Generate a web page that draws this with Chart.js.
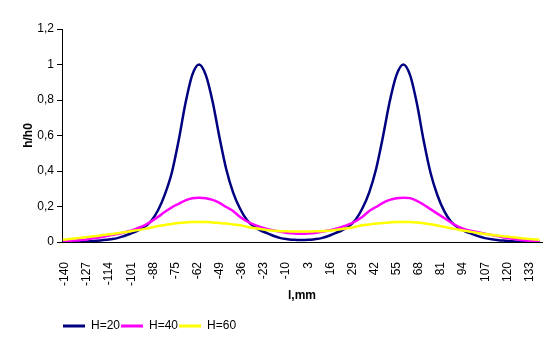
<!DOCTYPE html>
<html>
<head>
<meta charset="utf-8">
<script src="https://cdn.jsdelivr.net/npm/chart.js@4.4.1/dist/chart.umd.min.js"></script>
<style>
html,body{margin:0;padding:0;background:#ffffff;}
canvas{display:block;}
</style>
</head>
<body>
<canvas id="c" width="555" height="355"></canvas>
<script>
// l, mm (sample positions)
const positions = [
 -140,-136,-132,-128,-124,-120,-116,-112,-108,-104,-100,-96,-92,-88,-84,-80,-76,-72,-68,-64,
 -60,-56,-52,-48,-44,-40,-36,-32,-28,-24,-20,-16,-12,-8,-4,
 0,4,8,12,16,20,24,28,32,36,40,44,48,52,56,
 60,64,68,72,76,80,84,88,92,96,100,104,108,112,116,120,124,128,132,136,140
];
// h/h0, H=20
const h20 = [
 0,0,0.001,0.002,0.004,0.007,0.011,0.016,0.022,0.034,0.048,0.064,0.085,0.12,0.18,0.27,0.39,0.57,0.78,0.94,
 1.0,0.94,0.79,0.59,0.41,0.28,0.19,0.125,0.088,0.066,0.05,0.034,0.022,0.016,0.012,
 0.011,0.012,0.016,0.022,0.034,0.05,0.066,0.088,0.125,0.19,0.28,0.41,0.59,0.79,0.94,
 1.0,0.94,0.78,0.57,0.39,0.265,0.175,0.115,0.082,0.062,0.047,0.033,0.022,0.015,0.01,0.007,0.004,0.002,0.001,0,0
];
// h/h0, H=40
const h40 = [
 0.004,0.006,0.009,0.012,0.018,0.024,0.030,0.038,0.045,0.054,0.064,0.078,0.094,0.116,0.142,0.17,0.195,0.215,0.235,0.247,
 0.25,0.247,0.237,0.22,0.197,0.175,0.142,0.117,0.099,0.085,0.074,0.065,0.057,0.051,0.048,
 0.047,0.048,0.051,0.057,0.065,0.074,0.085,0.099,0.117,0.142,0.175,0.197,0.22,0.237,0.247,
 0.25,0.247,0.232,0.21,0.185,0.16,0.135,0.11,0.088,0.072,0.062,0.055,0.047,0.039,0.032,0.024,0.018,0.013,0.009,0.006,0.004
];
// h/h0, H=60
const h60 = [
 0.013,0.017,0.021,0.025,0.029,0.034,0.039,0.044,0.049,0.055,0.061,0.067,0.074,0.082,0.09,0.096,0.102,0.107,0.11,0.112,
 0.112,0.112,0.11,0.107,0.104,0.099,0.094,0.086,0.079,0.073,0.068,0.064,0.061,0.06,0.059,
 0.059,0.059,0.06,0.061,0.064,0.068,0.073,0.079,0.086,0.094,0.099,0.104,0.107,0.11,0.112,
 0.112,0.112,0.11,0.106,0.1,0.093,0.086,0.078,0.07,0.063,0.057,0.051,0.045,0.04,0.035,0.031,0.027,0.023,0.019,0.016,0.013
];
const seriesNames = ['H=20','H=40','H=60'];
const xTickValues = [-140,-127,-114,-101,-88,-75,-62,-49,-36,-23,-10,3,16,29,42,55,68,81,94,107,120,133];
const xTickLabels = ['-140','-127','-114','-101','-88','-75','-62','-49','-36','-23','-10','3','16','29','42','55','68','81','94','107','120','133'];
const yTickLabels = ['0','0,2','0,4','0,6','0,8','1','1,2'];

const colors = ['#000080','#FF00FF','#FFFF00'];
const seriesValues = [h20, h40, h60];

const FONT = "'Liberation Sans', Arial, sans-serif";

const datasets = seriesValues.map((vals, k) => ({
  label: seriesNames[k],
  data: positions.map((x, i) => ({x: x, y: vals[i]})),
  borderColor: colors[k],
  backgroundColor: colors[k],
  borderWidth: 2.5,
  pointRadius: 0,
  pointHoverRadius: 0,
  cubicInterpolationMode: 'monotone',
  fill: false,
  order: 3 - k
}));

new Chart(document.getElementById('c'), {
  type: 'line',
  data: { datasets: datasets },
  options: {
    responsive: false,
    animation: false,
    devicePixelRatio: 1,
    layout: { padding: { top: 29, right: 13, bottom: 13, left: 0 } },
    plugins: {
      tooltip: { enabled: false },
      legend: {
        position: 'bottom',
        align: 'start',
        fullSize: false,
        labels: {
          color: '#000',
          font: { family: FONT, size: 12 },
          boxWidth: 22,
          boxHeight: 3,
          padding: 1,
          sort: (a, b) => a.datasetIndex - b.datasetIndex,
          generateLabels: (chart) => {
            const items = Chart.defaults.plugins.legend.labels.generateLabels(chart);
            items.forEach(it => { it.lineWidth = 0; it.fillStyle = colors[it.datasetIndex]; it.strokeStyle = colors[it.datasetIndex]; });
            return items;
          }
        }
      }
    },
    scales: {
      x: {
        type: 'linear',
        min: -140.5,
        max: 141.5,
        afterBuildTicks: (s) => { s.ticks = xTickValues.map(v => ({ value: v })); },
        afterFit: (s) => { s.height = 77; },
        ticks: {
          autoSkip: false,
          minRotation: 90,
          maxRotation: 90,
          padding: 12,
          labelOffset: 2,
          color: '#000',
          font: { family: FONT, size: 12 },
          callback: (v, i) => xTickLabels[i]
        },
        grid: { display: false },
        border: { display: true, color: '#000', width: 1 },
        title: {
          display: true,
          text: 'l,mm',
          color: '#000',
          font: { family: FONT, size: 12, weight: 'bold' },
          padding: { top: 0, bottom: 16 }
        }
      },
      y: {
        min: 0,
        max: 1.2,
        afterFit: (s) => { s.width = 62; },
        ticks: {
          stepSize: 0.2,
          padding: 3,
          color: '#000',
          font: { family: FONT, size: 12 },
          callback: (v, i) => yTickLabels[i]
        },
        grid: { drawOnChartArea: false, drawTicks: true, tickLength: 5, color: '#000' },
        border: { display: true, color: '#000', width: 1 },
        title: {
          display: true,
          text: 'h/h0',
          color: '#000',
          font: { family: FONT, size: 12, weight: 'bold' },
          padding: { top: 21, bottom: 0 }
        }
      }
    }
  }
});
</script>
</body>
</html>
